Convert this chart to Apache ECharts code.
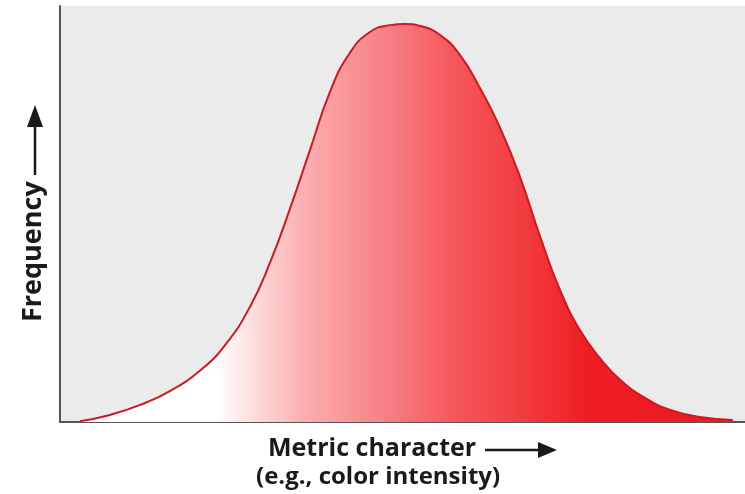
<!DOCTYPE html>
<html>
<head>
<meta charset="utf-8">
<script src="https://cdn.jsdelivr.net/npm/echarts@6/dist/echarts.min.js"></script>
<style>
  html, body { margin: 0; padding: 0; background: #fff; }
  #chart { width: 745px; height: 494px; }
</style>
</head>
<body>
<div id="chart"></div>
<script>
// metric character (0-100)
const intensity = [2.9, 7.3, 11.7, 16.1, 20.4, 24.1, 27.7, 30.7, 33.6, 36.5, 39.4, 42.3, 45.3, 48.2, 50.4,
  52.6, 55.5, 58.4, 61.3, 64.2, 67.2, 70.1, 73.0, 75.9, 78.8, 81.8, 85.4, 89.1, 93.4, 98.2]
// frequency (0-100)
const frequency = [0.2, 1.7, 4.1, 7.5, 12.3, 18.5, 27.6, 38.5, 51.4, 65.4, 79.3, 88.7, 93.8, 95.4, 95.7,
  95.2, 93.0, 88.2, 80.3, 70.9, 58.7, 44.5, 31.7, 22.1, 15.4, 10.1, 5.8, 2.9, 1.2, 0.5]

const xTitle = 'Metric character'
const xSubTitle = '(e.g., color intensity)'
const yTitle = 'Frequency'

const points = intensity.map((x, i) => [x, frequency[i]])

const chart = echarts.init(document.getElementById('chart'), null, { renderer: 'canvas' })

chart.setOption({
  animation: false,
  grid: {
    left: 60,
    right: 0,
    top: 6,
    bottom: 72,
    show: true,
    backgroundColor: '#ebebeb',
    borderWidth: 0,
  },
  xAxis: {
    type: 'value',
    min: 0,
    max: 100,
    axisLine: { show: true, lineStyle: { color: '#555', width: 2 } },
    axisTick: { show: false },
    axisLabel: { show: false },
    splitLine: { show: false },
  },
  yAxis: {
    type: 'value',
    min: 0,
    max: 100,
    axisLine: { show: true, lineStyle: { color: '#555', width: 2 } },
    axisTick: { show: false },
    axisLabel: { show: false },
    splitLine: { show: false },
  },
  series: [{
    type: 'line',
    data: points,
    smooth: 0.5,
    symbol: 'none',
    lineStyle: { color: '#cc1a20', width: 2 },
    areaStyle: {
      opacity: 1,
      color: new echarts.graphic.LinearGradient(0, 0, 1, 0, [
        { offset: 0, color: '#ffffff' },
        { offset: 0.21, color: '#ffffff' },
        { offset: 0.26, color: '#fde0e1' },
        { offset: 0.34, color: '#fbb0b2' },
        { offset: 0.41, color: '#f99597' },
        { offset: 0.49, color: '#f7787c' },
        { offset: 0.57, color: '#f5585c' },
        { offset: 0.64, color: '#f34649' },
        { offset: 0.72, color: '#f12f33' },
        { offset: 0.78, color: '#ee1d23' },
        { offset: 1, color: '#ec1c24' },
      ]),
    },
  }],
  graphic: [
    // x axis title
    {
      type: 'text',
      left: 268,
      top: 436,
      style: { text: xTitle, font: 'bold 25px "Open Sans"', fill: '#1a1a1a' },
    },
    {
      type: 'line',
      shape: { x1: 485, y1: 450, x2: 542, y2: 450 },
      style: { stroke: '#1a1a1a', lineWidth: 2.5 },
    },
    {
      type: 'polygon',
      shape: { points: [[538, 442], [557, 450], [538, 458]] },
      style: { fill: '#1a1a1a' },
    },
    {
      type: 'text',
      left: 256,
      top: 465,
      style: { text: xSubTitle, font: 'bold 24px "Open Sans"', fill: '#1a1a1a' },
    },
    // y axis title
    {
      type: 'text',
      x: 20,
      y: 322,
      rotation: Math.PI / 2,
      style: { text: yTitle, font: 'bold 27px "Open Sans"', fill: '#1a1a1a', textVerticalAlign: 'top' },
    },
    {
      type: 'line',
      shape: { x1: 35, y1: 175, x2: 35, y2: 122 },
      style: { stroke: '#1a1a1a', lineWidth: 2.5 },
    },
    {
      type: 'polygon',
      shape: { points: [[27, 127], [35, 105], [43, 127]] },
      style: { fill: '#1a1a1a' },
    },
  ],
})
</script>
</body>
</html>
